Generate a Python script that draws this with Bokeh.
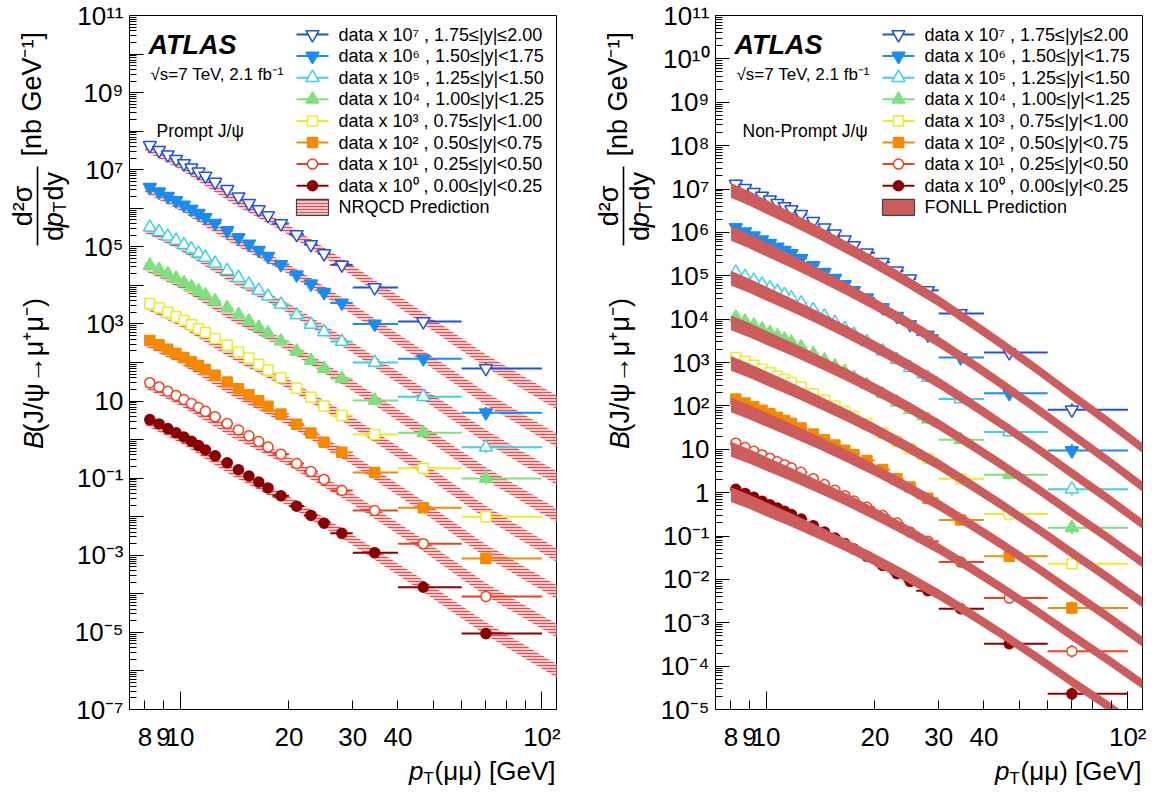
import math
from bokeh.plotting import figure
from bokeh.models import Range1d, FixedTicker, Label, ColumnDataSource
from bokeh.layouts import row, column
from bokeh.embed import file_html
from bokeh.resources import INLINE

# ---------------- data ----------------
pt_edges = [8, 8.5, 9, 9.5, 10, 10.5, 11, 11.5, 12, 13, 14, 15, 16, 17, 18, 20, 22, 24, 26, 30, 40, 60, 100]
pt_points = [8.25, 8.75, 9.25, 9.75, 10.25, 10.75, 11.25, 11.75, 12.5, 13.5, 14.5, 15.5, 16.5, 17.5,
             19, 21, 23, 25, 28, 34.5, 47, 70]
rel_err = [0.04, 0.04, 0.04, 0.04, 0.04, 0.04, 0.04, 0.04, 0.04, 0.04, 0.04, 0.045, 0.045, 0.05,
           0.05, 0.055, 0.06, 0.065, 0.07, 0.09, 0.14, 0.4]
scale_exp = [0, 1, 2, 3, 4, 5, 6, 7]
y_ranges = ["0.00≤|y|<0.25", "0.25≤|y|<0.50", "0.50≤|y|<0.75", "0.75≤|y|<1.00",
            "1.00≤|y|<1.25", "1.25≤|y|<1.50", "1.50≤|y|<1.75", "1.75≤|y|≤2.00"]

# prompt J/psi, unscaled cross-sections (nb/GeV), one list per rapidity bin
prompt_0 = [3.3, 2.55, 1.93, 1.5, 1.17, 0.91, 0.7, 0.54, 0.38, 0.25, 0.166, 0.114, 0.079, 0.056, 0.035, 0.0188, 0.0108, 6.8e-3, 3.7e-3, 1.17e-3, 1.48e-4, 9.3e-6]
prompt_1 = [3.0, 2.33, 1.79, 1.39, 1.09, 0.86, 0.68, 0.54, 0.39, 0.26, 0.178, 0.125, 0.089, 0.064, 0.042, 0.024, 0.015, 9.3e-3, 4.8e-3, 1.45e-3, 2.0e-4, 8.5e-6]
prompt_2 = [3.7, 2.87, 2.2, 1.71, 1.34, 1.05, 0.83, 0.66, 0.47, 0.31, 0.21, 0.145, 0.102, 0.073, 0.046, 0.025, 0.0148, 8.5e-3, 4.7e-3, 1.4e-3, 1.7e-4, 8.3e-6]
prompt_3 = [3.4, 2.63, 2.02, 1.57, 1.22, 0.96, 0.75, 0.6, 0.42, 0.28, 0.188, 0.13, 0.09, 0.064, 0.04, 0.0215, 0.0126, 7.4e-3, 4.2e-3, 1.35e-3, 1.8e-4, 1.0e-5]
prompt_4 = [3.3, 2.55, 1.95, 1.51, 1.17, 0.91, 0.71, 0.56, 0.39, 0.26, 0.172, 0.118, 0.082, 0.058, 0.036, 0.0194, 0.0112, 6.9e-3, 3.8e-3, 1.04e-3, 1.5e-4, 9.8e-6]
prompt_5 = [3.2, 2.46, 1.88, 1.45, 1.12, 0.87, 0.68, 0.53, 0.37, 0.24, 0.158, 0.107, 0.074, 0.052, 0.032, 0.017, 9.7e-3, 6.2e-3, 3.5e-3, 1.0e-3, 1.3e-4, 6.3e-6]
prompt_6 = [3.5, 2.68, 2.05, 1.58, 1.22, 0.95, 0.74, 0.58, 0.41, 0.265, 0.175, 0.119, 0.082, 0.057, 0.035, 0.019, 0.011, 6.6e-3, 3.5e-3, 1.0e-3, 1.26e-4, 5.0e-6]
prompt_7 = [4.3, 3.2, 2.45, 1.88, 1.45, 1.13, 0.88, 0.69, 0.48, 0.31, 0.2, 0.135, 0.093, 0.065, 0.04, 0.021, 0.0115, 6.7e-3, 3.4e-3, 8.8e-4, 1.15e-4, 7.0e-6]

# non-prompt J/psi
nonprompt_0 = [1.2, 0.96, 0.78, 0.635, 0.525, 0.44, 0.37, 0.313, 0.247, 0.173, 0.124, 0.09, 0.067, 0.05, 0.034, 0.021, 0.0135, 9.0e-3, 5.5e-3, 2.1e-3, 3.3e-4, 2.3e-5]
nonprompt_1 = [1.38, 1.1, 0.9, 0.74, 0.615, 0.515, 0.435, 0.37, 0.295, 0.21, 0.153, 0.113, 0.085, 0.064, 0.046, 0.0295, 0.02, 0.0123, 7.6e-3, 2.5e-3, 3.7e-4, 2.2e-5]
nonprompt_2 = [1.45, 1.17, 0.96, 0.79, 0.655, 0.55, 0.46, 0.39, 0.31, 0.225, 0.165, 0.125, 0.095, 0.075, 0.055, 0.034, 0.021, 0.0135, 7.4e-3, 2.35e-3, 3.4e-4, 2.2e-5]
nonprompt_3 = [1.3, 1.05, 0.86, 0.7, 0.58, 0.485, 0.405, 0.345, 0.27, 0.19, 0.137, 0.1, 0.074, 0.056, 0.038, 0.0235, 0.0152, 0.0101, 6.1e-3, 2.1e-3, 3.2e-4, 2.3e-5]
nonprompt_4 = [1.1, 0.89, 0.72, 0.59, 0.485, 0.405, 0.34, 0.29, 0.225, 0.158, 0.113, 0.082, 0.061, 0.045, 0.031, 0.019, 0.0122, 8.1e-3, 4.9e-3, 1.65e-3, 2.6e-4, 1.55e-5]
nonprompt_5 = [1.2, 0.96, 0.78, 0.635, 0.52, 0.43, 0.36, 0.305, 0.235, 0.163, 0.115, 0.083, 0.06, 0.044, 0.03, 0.0182, 0.0116, 7.6e-3, 4.5e-3, 1.45e-3, 2.5e-4, 1.2e-5]
nonprompt_6 = [1.3, 1.04, 0.84, 0.68, 0.56, 0.46, 0.385, 0.325, 0.25, 0.172, 0.121, 0.087, 0.063, 0.046, 0.031, 0.0185, 0.0116, 7.5e-3, 4.3e-3, 1.3e-3, 1.95e-4, 9.3e-6]
nonprompt_7 = [1.3, 1.04, 0.84, 0.685, 0.565, 0.47, 0.395, 0.335, 0.26, 0.18, 0.128, 0.093, 0.068, 0.05, 0.034, 0.0205, 0.013, 8.5e-3, 4.6e-3, 1.35e-3, 1.7e-4, 8.1e-6]

# NRQCD prediction (central values at pT nodes, unscaled) and band factors
nrqcd_pt = [8, 10, 14, 20, 30, 45, 70, 110]
nrqcd_0 = [3.0, 1.05, 0.145, 0.025, 2.5e-3, 2.1e-4, 1.25e-5, 1.0e-6]
nrqcd_1 = [2.7, 0.98, 0.145, 0.027, 2.9e-3, 2.4e-4, 1.3e-5, 1.1e-6]
nrqcd_2 = [3.3, 1.2, 0.17, 0.03, 3.0e-3, 2.4e-4, 1.3e-5, 1.1e-6]
nrqcd_3 = [3.1, 1.1, 0.155, 0.027, 2.8e-3, 2.3e-4, 1.3e-5, 1.0e-6]
nrqcd_4 = [3.0, 1.07, 0.15, 0.026, 2.5e-3, 2.1e-4, 1.3e-5, 1.07e-6]
nrqcd_5 = [2.9, 1.03, 0.145, 0.025, 2.4e-3, 2.0e-4, 1.2e-5, 1.0e-6]
nrqcd_6 = [3.2, 1.12, 0.155, 0.026, 2.4e-3, 1.9e-4, 1.15e-5, 9.5e-7]
nrqcd_7 = [3.8, 1.3, 0.17, 0.027, 2.4e-3, 1.85e-4, 1.1e-5, 9.1e-7]
nrqcd_unc = [1.25, 1.27, 1.3, 1.33, 1.37, 1.42, 1.47, 1.5]

# FONLL prediction (central values at pT nodes, unscaled) and band factors
fonll_pt = [8, 8.94, 10, 11.8, 14, 16.7, 20, 24.5, 30, 36.7, 45, 56.1, 70, 87.7, 110]
fonll_0 = [0.9, 0.628, 0.415, 0.229, 0.12, 0.0598, 0.0282, 0.01155, 4.48e-3, 1.60e-3, 5.4e-4, 1.58e-4, 4.4e-5, 1.24e-5, 3.3e-6]
fonll_1 = [1.0, 0.70, 0.464, 0.257, 0.135, 0.0677, 0.0321, 0.01322, 5.15e-3, 1.84e-3, 6.2e-4, 1.83e-4, 5.1e-5, 1.43e-5, 3.8e-6]
fonll_2 = [1.05, 0.733, 0.484, 0.2676, 0.14, 0.0698, 0.0329, 0.01345, 5.2e-3, 1.86e-3, 6.3e-4, 1.84e-4, 5.1e-5, 1.39e-5, 3.6e-6]
fonll_3 = [0.95, 0.659, 0.433, 0.236, 0.122, 0.0604, 0.0283, 0.01147, 4.4e-3, 1.54e-3, 5.1e-4, 1.49e-4, 4.1e-5, 1.12e-5, 2.9e-6]
fonll_4 = [0.82, 0.568, 0.373, 0.2034, 0.105, 0.0517, 0.0241, 9.73e-3, 3.72e-3, 1.30e-3, 4.3e-4, 1.243e-4, 3.4e-5, 9.3e-6, 2.4e-6]
fonll_5 = [0.88, 0.601, 0.389, 0.2078, 0.105, 0.0505, 0.023, 9.06e-3, 3.38e-3, 1.15e-3, 3.7e-4, 1.046e-4, 2.8e-5, 7.4e-6, 1.85e-6]
fonll_6 = [0.95, 0.638, 0.406, 0.2113, 0.104, 0.0489, 0.0218, 8.31e-3, 3.0e-3, 9.91e-4, 3.1e-4, 8.49e-5, 2.2e-5, 5.6e-6, 1.35e-6]
fonll_7 = [0.93, 0.619, 0.39, 0.2, 0.097, 0.0447, 0.0195, 7.32e-3, 2.6e-3, 8.45e-4, 2.6e-4, 6.93e-5, 1.75e-5, 4.41e-6, 1.05e-6]
fonll_unc = [1.48, 1.465, 1.45, 1.425, 1.4, 1.385, 1.37, 1.35, 1.33, 1.315, 1.3, 1.3, 1.3, 1.3, 1.3]

x_tick_values = [8, 9, 10, 20, 30, 40, 50, 60, 70, 80, 90, 100]
x_tick_labels = ["8", "9", "10", "20", "30", "40", "", "", "", "", "", "10²"]

prompt_series = [prompt_0, prompt_1, prompt_2, prompt_3, prompt_4, prompt_5, prompt_6, prompt_7]
nonprompt_series = [nonprompt_0, nonprompt_1, nonprompt_2, nonprompt_3, nonprompt_4, nonprompt_5, nonprompt_6, nonprompt_7]
nrqcd_series = [nrqcd_0, nrqcd_1, nrqcd_2, nrqcd_3, nrqcd_4, nrqcd_5, nrqcd_6, nrqcd_7]
fonll_series = [fonll_0, fonll_1, fonll_2, fonll_3, fonll_4, fonll_5, fonll_6, fonll_7]

# ---------------- styles ----------------
FONT = "Liberation Sans"
colors = ["#8b0000", "#f0401e", "#f58a00", "#e6ee28", "#7ee07e", "#3cd2e6", "#1a8cf0", "#1f50e0"]
markers = ["circle", "circle", "square", "square", "triangle", "triangle", "inverted_triangle", "inverted_triangle"]
filled = [True, False, True, False, True, False, True, False]
msizes = [10, 10, 10, 10, 13, 13, 13, 13]

SUP = str.maketrans("0123456789-", "⁰¹²³⁴⁵⁶⁷⁸⁹⁻")


def sup(n):
    return str(n).translate(SUP)


X_LO, X_HI = 7.25, 109.7
XL0 = math.log10(X_LO)
XDEC = math.log10(X_HI / X_LO)
FW, FH, FT = 427, 694, 15          # frame width, height, page-y of frame top
BL = 58                            # left border (tick labels) of each panel
ROW_H = FT + FH + 44               # height of the top row
P1X0 = 129                         # page x of frame of panel 1
P2X0 = 715                         # page x of frame of panel 2
P1_RIGHT = P1X0 + FW + 8


def make_fig(e0, e1, border_right, labeled):
    p = figure(x_axis_type="log", y_axis_type="log",
               x_range=Range1d(X_LO, X_HI), y_range=Range1d(10.0 ** e0, 10.0 ** e1),
               frame_width=FW, frame_height=FH,
               min_border_left=BL, min_border_right=border_right,
               min_border_top=FT, min_border_bottom=ROW_H - FT - FH,
               toolbar_location=None, output_backend="svg")
    p.grid.visible = False
    p.outline_line_color = "black"
    p.outline_line_width = 1
    p.background_fill_color = "white"
    p.border_fill_color = "white"

    xa = p.xaxis[0]
    xa.ticker = FixedTicker(ticks=x_tick_values, minor_ticks=[10, 100])
    xa.major_label_overrides = dict(zip(x_tick_values, x_tick_labels))
    xa.major_tick_in, xa.major_tick_out = 9, 0
    xa.minor_tick_in, xa.minor_tick_out = 18, 0
    xa.major_label_text_font = FONT
    xa.major_label_text_font_size = "26px"
    xa.major_label_text_color = "black"
    xa.major_label_standoff = 12
    xa.axis_line_color = "black"

    ya = p.yaxis[0]
    majors = [10.0 ** k for k in range(e0, e1 + 1)]
    minors = [m * 10.0 ** k for k in range(e0, e1) for m in range(2, 10)]
    ya.ticker = FixedTicker(ticks=majors, minor_ticks=minors)
    over = {}
    for k, t in zip(range(e0, e1 + 1), majors):
        if k not in labeled:
            over[t] = ""
        elif k == 0:
            over[t] = "1"
        elif k == 1:
            over[t] = "10"
        else:
            over[t] = "10" + sup(k)
    ya.major_label_overrides = over
    ya.major_tick_in, ya.major_tick_out = 14, 0
    ya.minor_tick_in, ya.minor_tick_out = 7, 0
    ya.major_label_text_font = FONT
    ya.major_label_text_font_size = "26px"
    ya.major_label_text_color = "black"
    ya.major_label_standoff = 6
    ya.axis_line_color = "black"
    return p


def text_fig(x0, x1, y0, y1):
    f = figure(x_range=Range1d(x0, x1), y_range=Range1d(y1, y0), width=x1 - x0, height=y1 - y0,
               min_border=0, toolbar_location=None, output_backend="svg",
               x_axis_location=None, y_axis_location=None)
    f.grid.visible = False
    f.outline_line_color = None
    f.background_fill_color = "white"
    f.border_fill_color = "white"
    return f


def put(f, x, y, text, size, align="left", angle=0.0, style="normal", font=FONT):
    f.add_layout(Label(x=x, y=y, text=text, text_font=font, text_font_size=f"{size}px",
                       text_font_style=style, text_align=align, text_baseline="middle",
                       angle=angle, text_color="black"))


def draw_data(p, series):
    for k, vals in enumerate(series):
        f = 10.0 ** scale_exp[k]
        y = [v * f for v in vals]
        src = ColumnDataSource(dict(
            x=pt_points, y=y, lo=pt_edges[:-1], hi=pt_edges[1:],
            ylo=[v / (1 + e) for v, e in zip(y, rel_err)],
            yhi=[v * (1 + e) for v, e in zip(y, rel_err)]))
        c = colors[k]
        p.segment(x0="lo", x1="hi", y0="y", y1="y", source=src, line_color=c, line_width=2)
        p.segment(x0="x", x1="x", y0="ylo", y1="yhi", source=src, line_color=c, line_width=2)
        p.scatter(x="x", y="y", source=src, marker=markers[k], size=msizes[k],
                  line_color=c, line_width=1.5, fill_color=c if filled[k] else "white")


def draw_bands(p, nodes, series, unc, style):
    for k, vals in enumerate(series):
        f = 10.0 ** scale_exp[k]
        c = [v * f for v in vals]
        p.varea(x=nodes, y1=[a / u for a, u in zip(c, unc)],
                y2=[a * u for a, u in zip(c, unc)], **style)


def build(p, x0, e0, e1, series, nodes, bands, unc, band_style, band_on_top, pred_text, proc_text):
    def xd(px):
        return 10 ** (XL0 + (px - x0) / FW * XDEC)

    def yd(py):
        return 10 ** (e1 - (py - FT) / FH * (e1 - e0))

    def lab(px, py, text, size, style="normal"):
        p.add_layout(Label(x=xd(px), y=yd(py), text=text, text_font=FONT,
                           text_font_size=f"{size}px", text_font_style=style,
                           text_align="left", text_baseline="middle", text_color="black"))

    if not band_on_top:
        draw_bands(p, nodes, bands, unc, band_style)
    draw_data(p, series)
    if band_on_top:
        draw_bands(p, nodes, bands, unc, band_style)

    # legend
    dx = x0 - P1X0
    for i in range(8):
        k = 7 - i
        ry = 34 + 21.6 * i
        c = colors[k]
        p.segment(x0=[xd(296 + dx)], x1=[xd(328 + dx)], y0=[yd(ry)], y1=[yd(ry)], line_color=c, line_width=2)
        p.scatter(x=[xd(312 + dx)], y=[yd(ry)], marker=markers[k], size=msizes[k], line_color=c,
                  line_width=1.5, fill_color=c if filled[k] else "white")
        lab(338 + dx, ry, f"data x 10{sup(scale_exp[k])} , {y_ranges[k]}", 18)
    ry = 34 + 21.6 * 8
    p.quad(left=[xd(296 + dx)], right=[xd(328 + dx)], top=[yd(ry - 8)], bottom=[yd(ry + 8)],
           line_color="#444444", line_width=1.2, **band_style)
    lab(338 + dx, ry, pred_text, 18)

    # texts inside frame
    lab(148 + dx, 44, "ATLAS", 27, style="bold italic")
    lab(150 + dx, 74, "√s=7 TeV, 2.1 fb⁻¹", 17)
    lab(156 + dx, 130, proc_text, 17.5)


def y_title(f, cx):
    """rotated y-axis title; cx = page x of the 'B(...)' column"""
    up = math.pi / 2
    put(f, cx - 2, 18, "[nb GeV⁻¹]", 27, align="right", angle=up)
    put(f, cx - 11, 207, "d²σ", 27, align="center", angle=up)
    f.segment(x0=[cx + 4], x1=[cx + 4], y0=[164], y1=[250], line_color="black", line_width=1.6)
    put(f, cx + 20, 245, "d", 27, align="left", angle=up)
    put(f, cx + 20, 230, "p", 27, align="left", angle=up, style="italic")
    put(f, cx + 26, 208, "T", 18, align="center", angle=up)
    put(f, cx + 20, 201, "dy", 27, align="left", angle=up)
    put(f, cx, 471, "B", 27, align="left", angle=up, style="italic")
    put(f, cx, 453, "(J/ψ→μ⁺μ⁻)", 27, align="left", angle=up)


def x_title(f, right, cy):
    put(f, right, cy, "(μμ) [GeV]", 26, align="right")
    put(f, right - 127, cy + 8, "T", 17, align="center")
    put(f, right - 132, cy, "p", 26, align="right", style="italic")


nrqcd_style = dict(fill_color="#f6c2c2", fill_alpha=0.9, hatch_pattern="horizontal_line",
                   hatch_color="#e05050", hatch_scale=3, hatch_weight=1)
fonll_style = dict(fill_color="#cd5c5c", fill_alpha=1.0)

# panel 1 (prompt)
lab1 = text_fig(0, P1X0 - BL, 0, ROW_H)
y_title(lab1, 33)
p1 = make_fig(-7, 11, P1_RIGHT - P1X0 - FW, labeled=set(range(-7, 12, 2)))
build(p1, P1X0, -7, 11, prompt_series, nrqcd_pt, nrqcd_series, nrqcd_unc, nrqcd_style, False,
      "NRQCD Prediction", "Prompt J/ψ")

# panel 2 (non-prompt)
lab2 = text_fig(P1_RIGHT, P2X0 - BL, 0, ROW_H)
y_title(lab2, 33 + (P2X0 - P1X0))
p2 = make_fig(-5, 11, 4, labeled=set(range(-5, 12)))
build(p2, P2X0, -5, 11, nonprompt_series, fonll_pt, fonll_series, fonll_unc, fonll_style, True,
      "FONLL Prediction", "Non-Prompt J/ψ")

# x-axis titles
TOTAL_W = P2X0 + FW + 4
xt = text_fig(0, TOTAL_W, ROW_H, 791)
x_title(xt, 555, 769)
x_title(xt, 555 + (P2X0 - P1X0), 769)

layout = column(row(lab1, p1, lab2, p2), xt)
with open("out.html", "w", encoding="utf-8") as fh:
    fh.write(file_html(layout, INLINE, title="ATLAS J/psi cross-sections"))
